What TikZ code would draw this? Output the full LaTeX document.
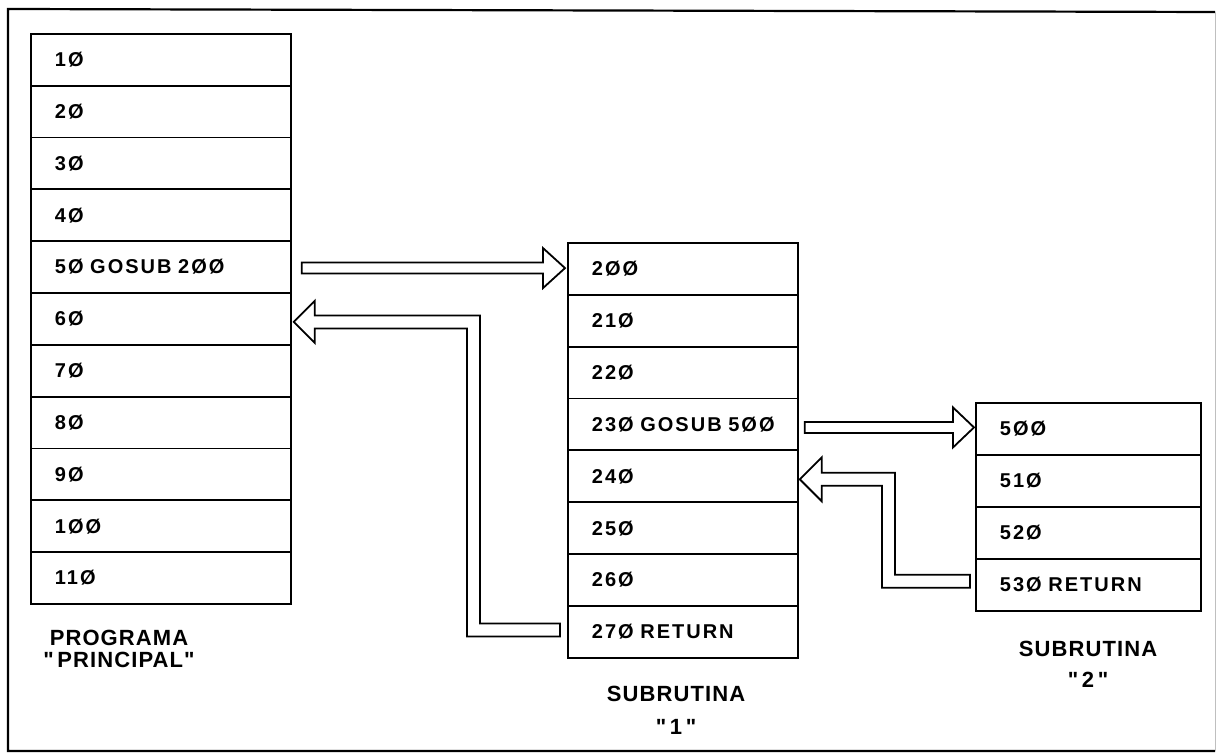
\documentclass[tikz,border=0pt]{standalone}
\usepackage{fontspec}
\usetikzlibrary{calc}
\newfontfamily\rowfont[LetterSpace=10]{Liberation Sans}
\newfontfamily\labfont[LetterSpace=5]{Liberation Sans}
\begin{document}
\begin{tikzpicture}[x=0.5pt,y=-0.5pt,
  row/.style={draw, line width=0.9pt, anchor=north west, minimum height=25.9pt,
    inner ysep=0pt, inner xsep=12pt, text width=#1, align=left,
    font=\rowfont\bfseries\fontsize{10}{11}\selectfont},
  harrow/.style={draw, line width=0.9pt, fill=white, line join=miter},
  lab/.style={align=center, font=\labfont\bfseries\fontsize{11}{11}\selectfont, inner sep=0pt},
  frame/.style={line width=1.1pt}]
\useasboundingbox (0,0) rectangle (1220,754);
\fill[white] (0,0) rectangle (1220,754);
% outer frame
\draw[frame] (1215,12) -- (8,9) -- (8,751) -- (1215,751);
\draw[line width=0.5pt, black!25] (1215,12) -- (1215,751);
% main program
\foreach \t [count=\i] in {1Ø,2Ø,3Ø,4Ø,5Ø GOSUB 2ØØ,6Ø,7Ø,8Ø,9Ø,1ØØ,11Ø}
  \node[row=106pt, minimum width=130pt] (m\i) at (30,{33+(\i-1)*51.82}) {\t};
% subroutine 1
\foreach \t [count=\i] in {2ØØ,21Ø,22Ø,23Ø GOSUB 5ØØ,24Ø,25Ø,26Ø,27Ø RETURN}
  \node[row=91pt, minimum width=115pt] (s1-\i) at (567,{242+(\i-1)*51.875}) {\t};
% subroutine 2
\foreach \t [count=\i] in {5ØØ,51Ø,52Ø,53Ø RETURN}
  \node[row=88.5pt, minimum width=112.5pt] (s2-\i) at (975,{402+(\i-1)*52}) {\t};
% labels
\node[lab] (l1) at (119,649) {PROGRAMA\\"\,PRINCIPAL"};
\node[lab] (l2) at (676,710) {SUBRUTINA\\[5.5pt]"\,1\,"};
\node[lab] (l3) at (1088,664) {SUBRUTINA\\[4.5pt]"\,2\,"};
% arrow: 50 GOSUB 200 -> 200
\coordinate (a1s) at ($(m5.east)+(10,1)$);
\coordinate (a1t) at ($(s1-1.west |- a1s)+(-2,0)$);
\draw[harrow] ($(a1s)+(0,-5.5)$) -- ($(a1t)+(-22,-5.5)$) -- ($(a1t)+(-22,-20)$) -- (a1t)
  -- ($(a1t)+(-22,20)$) -- ($(a1t)+(-22,5.5)$) -- ($(a1s)+(0,5.5)$) -- cycle;
% arrow: 230 GOSUB 500 -> 500
\coordinate (a2s) at ($(s1-4.east)+(6,3)$);
\coordinate (a2t) at ($(s2-1.west |- a2s)+(-1,0)$);
\draw[harrow] ($(a2s)+(0,-5.5)$) -- ($(a2t)+(-21,-5.5)$) -- ($(a2t)+(-21,-20)$) -- (a2t)
  -- ($(a2t)+(-21,20)$) -- ($(a2t)+(-21,5.5)$) -- ($(a2s)+(0,5.5)$) -- cycle;
% return: 270 RETURN -> 60
\coordinate (r1t) at ($(m6.east)+(2,3)$);
\coordinate (r1s) at ($(s1-8.west)+(-7,-2)$);
\coordinate (r1c) at ($(r1s)+(-86.5,0)$);
\draw[harrow] ($(r1s)+(0,-6.5)$) -- ($(r1c)+(6.5,-6.5)$) -- ($(r1c|-r1t)+(6.5,-6.5)$)
  -- ($(r1t)+(21,-6.5)$) -- ($(r1t)+(21,-21)$) -- (r1t) -- ($(r1t)+(21,21)$)
  -- ($(r1t)+(21,6.5)$) -- ($(r1c|-r1t)+(-6.5,6.5)$) -- ($(r1c)+(-6.5,6.5)$)
  -- ($(r1s)+(0,6.5)$) -- cycle;
% return: 530 RETURN -> 240
\coordinate (r2t) at ($(s1-5.east)+(1,3)$);
\coordinate (r2s) at ($(s2-4.west)+(-5,-3.5)$);
\coordinate (r2c) at ($(r2s)+(-81.5,0)$);
\draw[harrow] ($(r2s)+(0,-6.5)$) -- ($(r2c)+(6.5,-6.5)$) -- ($(r2c|-r2t)+(6.5,-6.5)$)
  -- ($(r2t)+(22,-6.5)$) -- ($(r2t)+(22,-22)$) -- (r2t) -- ($(r2t)+(22,22)$)
  -- ($(r2t)+(22,6.5)$) -- ($(r2c|-r2t)+(-6.5,6.5)$) -- ($(r2c)+(-6.5,6.5)$)
  -- ($(r2s)+(0,6.5)$) -- cycle;
\end{tikzpicture}
\end{document}
